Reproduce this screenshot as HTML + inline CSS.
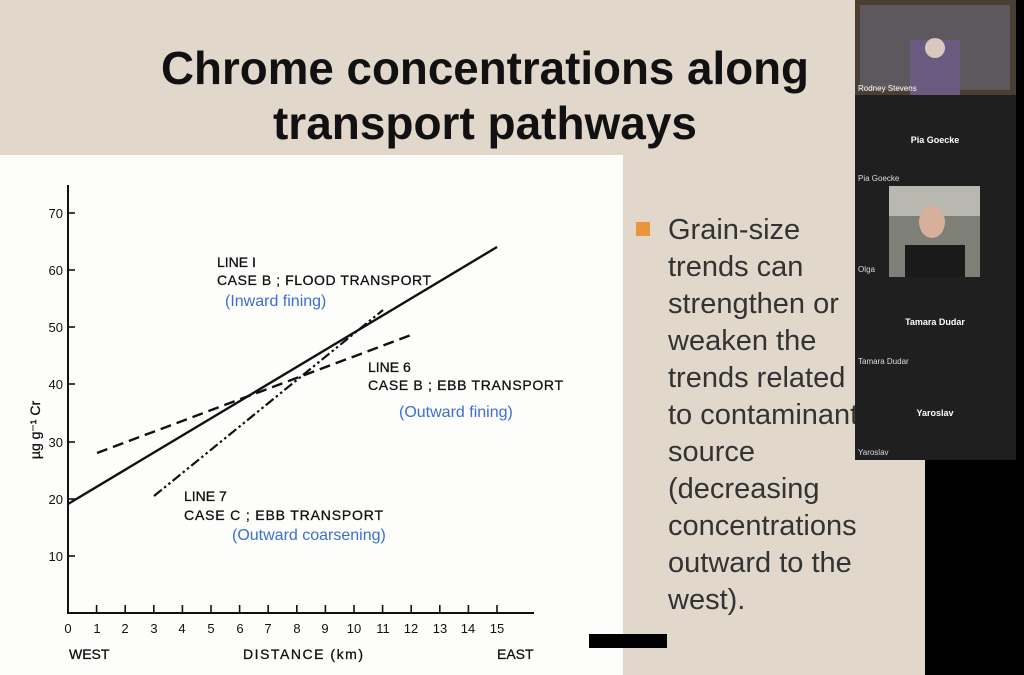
<!DOCTYPE html>
<html><head><meta charset="utf-8"><style>
html,body{margin:0;padding:0;width:1024px;height:675px;overflow:hidden;background:#e1d8cb}
svg{display:block}
.t{font-family:"Liberation Sans",sans-serif}
</style></head><body>
<svg width="1024" height="675" viewBox="0 0 1024 675" xmlns="http://www.w3.org/2000/svg">
<rect width="1024" height="675" fill="#e1d8cb"/>
<g class="t" font-weight="bold" font-size="46" fill="#111" text-anchor="middle">
<text x="485" y="84" textLength="648" lengthAdjust="spacingAndGlyphs">Chrome concentrations along</text>
<text x="485" y="139" textLength="424" lengthAdjust="spacingAndGlyphs">transport pathways</text>
</g>
<rect x="0" y="155" width="623" height="520" fill="#fdfdfc"/>
<g stroke="#111" stroke-width="2" fill="none">
<line x1="68" y1="185" x2="68" y2="614"/>
<line x1="67" y1="613" x2="534" y2="613"/>
<g stroke-width="1.6">
<line x1="68" y1="556" x2="75" y2="556"/><line x1="68" y1="499" x2="75" y2="499"/><line x1="68" y1="442" x2="75" y2="442"/><line x1="68" y1="384" x2="75" y2="384"/><line x1="68" y1="327" x2="75" y2="327"/><line x1="68" y1="270" x2="75" y2="270"/><line x1="68" y1="213" x2="75" y2="213"/>
<line x1="96.6" y1="613" x2="96.6" y2="605"/><line x1="125.2" y1="613" x2="125.2" y2="605"/><line x1="153.8" y1="613" x2="153.8" y2="605"/><line x1="182.4" y1="613" x2="182.4" y2="605"/><line x1="211" y1="613" x2="211" y2="605"/><line x1="239.6" y1="613" x2="239.6" y2="605"/><line x1="268.2" y1="613" x2="268.2" y2="605"/><line x1="296.8" y1="613" x2="296.8" y2="605"/><line x1="325.4" y1="613" x2="325.4" y2="605"/><line x1="354" y1="613" x2="354" y2="605"/><line x1="382.6" y1="613" x2="382.6" y2="605"/><line x1="411.2" y1="613" x2="411.2" y2="605"/><line x1="439.8" y1="613" x2="439.8" y2="605"/><line x1="468.4" y1="613" x2="468.4" y2="605"/><line x1="497" y1="613" x2="497" y2="605"/>
</g>
<line x1="68" y1="504" x2="497" y2="247" stroke-width="2.4"/>
<line x1="97" y1="453" x2="411" y2="335" stroke-width="2.4" stroke-dasharray="11,6"/>
<line x1="154" y1="496" x2="383" y2="310" stroke-width="2.2" stroke-dasharray="10,3,2.5,3,2.5,3"/>
</g>
<g class="t" font-size="13" fill="#111" text-anchor="end">
<text x="63" y="561">10</text><text x="63" y="504">20</text><text x="63" y="447">30</text><text x="63" y="389">40</text><text x="63" y="332">50</text><text x="63" y="275">60</text><text x="63" y="218">70</text>
</g>
<g class="t" font-size="13" fill="#111" text-anchor="middle">
<text x="68" y="633">0</text><text x="97" y="633">1</text><text x="125" y="633">2</text><text x="154" y="633">3</text><text x="182" y="633">4</text><text x="211" y="633">5</text><text x="240" y="633">6</text><text x="268" y="633">7</text><text x="297" y="633">8</text><text x="325" y="633">9</text><text x="354" y="633">10</text><text x="383" y="633">11</text><text x="411" y="633">12</text><text x="440" y="633">13</text><text x="468" y="633">14</text><text x="497" y="633">15</text>
</g>
<g class="t" font-size="14" fill="#111" stroke="#111" stroke-width="0.3">
<text x="69" y="659">WEST</text><text x="243" y="659" textLength="120">DISTANCE (km)</text><text x="497" y="659">EAST</text>
<text transform="translate(40,430) rotate(-90)" text-anchor="middle">µg g⁻¹ Cr</text>
<text x="217" y="267">LINE  I</text>
<text x="217" y="285" textLength="214">CASE B ; FLOOD TRANSPORT</text>
<text x="368" y="372">LINE  6</text>
<text x="368" y="390" textLength="195">CASE B ; EBB TRANSPORT</text>
<text x="184" y="501">LINE  7</text>
<text x="184" y="520" textLength="199">CASE C ; EBB TRANSPORT</text>
</g>
<g class="t" font-size="16" fill="#3b6fd1">
<text x="225" y="306">(Inward fining)</text>
<text x="399" y="417">(Outward fining)</text>
<text x="232" y="540">(Outward coarsening)</text>
</g>
<rect x="589" y="634" width="78" height="14" fill="#000"/>
<rect x="636" y="222" width="14" height="14" fill="#e8963c"/>
<g class="t" font-size="29" fill="#333">
<text x="668" y="239">Grain-size</text>
<text x="668" y="276">trends can</text>
<text x="668" y="313">strengthen or</text>
<text x="668" y="350">weaken the</text>
<text x="668" y="387">trends related</text>
<text x="668" y="424">to contaminant</text>
<text x="668" y="461">source</text>
<text x="668" y="498">(decreasing</text>
<text x="668" y="535">concentrations</text>
<text x="668" y="572">outward to the</text>
<text x="668" y="609">west).</text>
</g>
<rect x="925" y="460" width="99" height="215" fill="#000"/>
<rect x="1016" y="0" width="8" height="460" fill="#000"/>
<rect x="855" y="0" width="161" height="460" fill="#1f1f1f"/>
<rect x="855" y="0" width="161" height="95" fill="#4a3d33"/>
<rect x="860" y="5" width="150" height="85" fill="#6a6a7a" opacity="0.6"/>
<rect x="910" y="40" width="50" height="55" fill="#6a5a80"/>
<circle cx="935" cy="48" r="10" fill="#d8c8bf"/>
<text class="t" x="858" y="91" font-size="8" fill="#fff">Rodney Stevens</text>
<g class="t" font-weight="bold" font-size="9" fill="#fff" text-anchor="middle">
<text x="935" y="143">Pia Goecke</text>
<text x="935" y="325">Tamara Dudar</text>
<text x="935" y="416">Yaroslav</text>
</g>
<g class="t" font-size="8" fill="#ddd">
<text x="858" y="181">Pia Goecke</text>
<text x="858" y="272">Olga</text>
<text x="858" y="364">Tamara Dudar</text>
<text x="858" y="455">Yaroslav</text>
</g>
<rect x="889" y="186" width="91" height="91" fill="#7e8078"/>
<rect x="889" y="186" width="91" height="30" fill="#b8b8b0"/>
<ellipse cx="932" cy="222" rx="13" ry="16" fill="#d6b09a"/>
<rect x="905" y="245" width="60" height="32" fill="#1a1a1a"/>
</svg>
</body></html>
